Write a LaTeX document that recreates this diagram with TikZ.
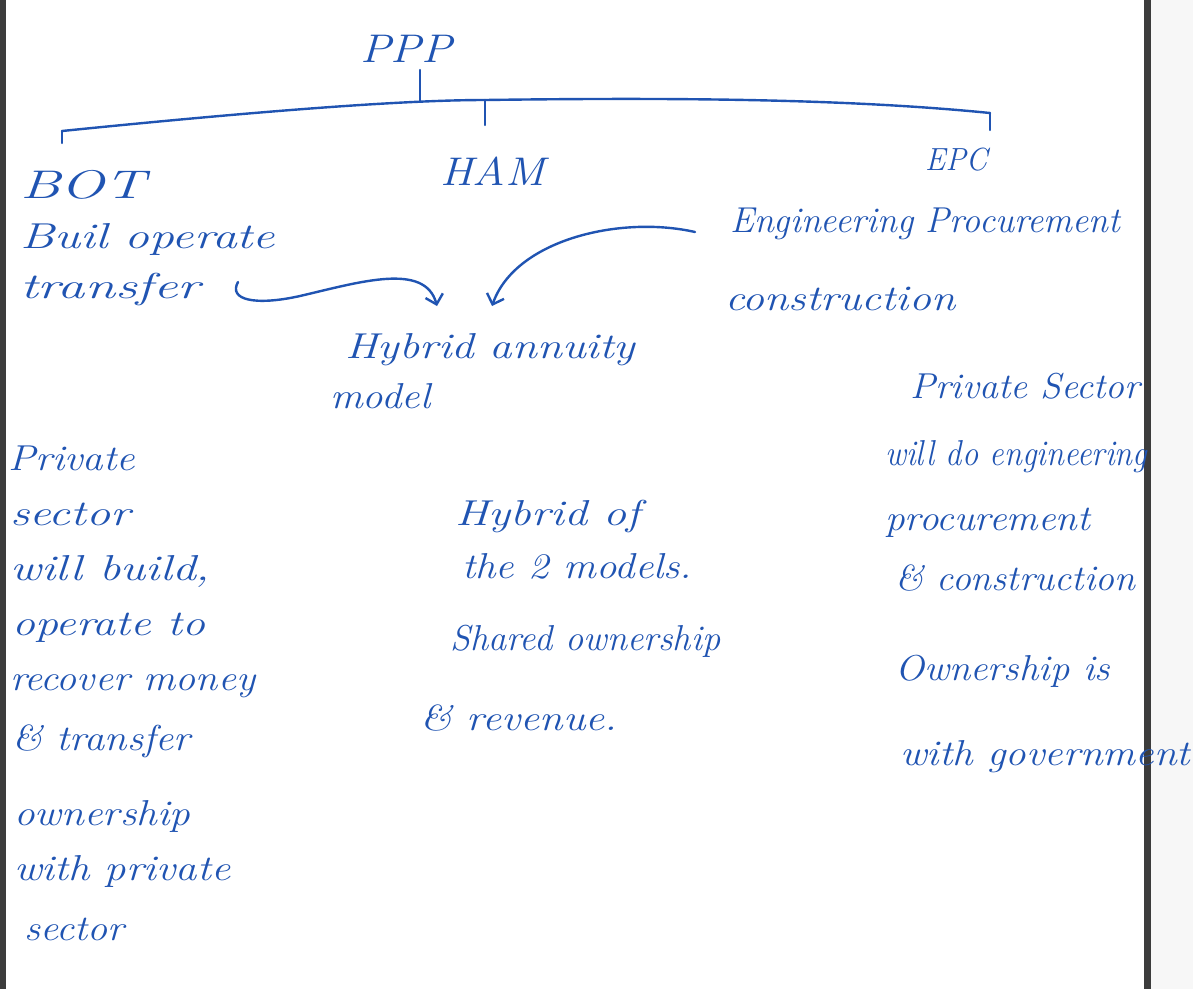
\documentclass[tikz,border=0pt]{standalone}
\usepackage{fontspec}
\usepackage{graphicx}
\usetikzlibrary{arrows.meta}
\definecolor{ink}{RGB}{32,84,178}
\definecolor{frame}{RGB}{60,60,60}
\newcommand{\hwfit}[2]{\resizebox{#1pt}{\height}{#2}}
\tikzset{
  hw/.style={text=ink, anchor=base west, inner sep=0pt, font=\fontsize{36}{40}\selectfont\itshape},
  hwbig/.style={hw, font=\fontsize{40}{44}\selectfont\itshape},
  hwsmall/.style={hw, font=\fontsize{32}{36}\selectfont\itshape},
  ink line/.style={draw=ink, line width=2.4pt, line cap=round, line join=round},
  ink arrow/.style={ink line, -{Straight Barb[length=9pt,width=18pt,line width=2.4pt]}}
}
\begin{document}
\begin{tikzpicture}[x=1pt,y=-1pt]
\useasboundingbox (0,0) rectangle (1193,989);
\fill[white] (0,0) rectangle (1193,989);
\fill[gray!6] (1150,0) rectangle (1193,989);
\fill[frame] (0,0) rectangle (6,989);
\fill[frame] (1144,0) rectangle (1151,989);

% tree
\node[hwbig] (ppp) at (360,62) {\hwfit{92}{PPP}};
\node[hwbig] (bot) at (20,198) {\hwfit{125}{BOT}};
\node[hwbig] (ham) at (440,185) {\hwfit{105}{HAM}};
\node[hwsmall] (epc) at (925,170) {\hwfit{62}{EPC}};

\coordinate (bl) at (62,131);
\coordinate (bm) at (485,100);
\coordinate (br) at (990,113);
\coordinate (pj) at (420,101);
\coordinate (pt) at (420,70);
\draw[ink line] (bl) .. controls (250,112) and (400,100) .. (bm) .. controls (700,97) and (860,100) .. (br);
\draw[ink line] (pt) -- (pj);
\draw[ink line] (bl) -- ++(0,12);
\draw[ink line] (bm) -- ++(0,25);
\draw[ink line] (br) -- ++(0,17);

% left (BOT)
\node[hw] (bot1) at (20,248) {\hwfit{255}{Buil operate}};
\node[hw] (bot2) at (20,298) {\hwfit{180}{transfer}};

% right (EPC)
\node[hw] (epc1) at (730,232) {\hwfit{390}{Engineering Procurement}};
\node[hw] (epc2) at (725,310) {\hwfit{230}{construction}};

% middle (HAM)
\node[hw] (ham1) at (345,358) {\hwfit{290}{Hybrid annuity}};
\node[hw] (ham2) at (330,408) {\hwfit{100}{model}};

% arrows into HAM
\coordinate (a1s) at (238,282);
\coordinate (a1e) at (437,306);
\coordinate (a2s) at (695,232);
\coordinate (a2e) at (492,306);
\draw[ink arrow] (a1s) .. controls (228,300) and (255,306) .. (300,296) .. controls (360,282) and (425,262) .. (a1e);
\draw[ink arrow] (a2s) .. controls (620,215) and (515,240) .. (a2e);

% left column
\node[hw] (l1) at (8,470) {\hwfit{127}{Private}};
\node[hw] (l2) at (10,525) {\hwfit{120}{sector}};
\node[hw] (l3) at (10,580) {\hwfit{200}{will build,}};
\node[hw] (l4) at (12,635) {\hwfit{193}{operate to}};
\node[hw] (l5) at (10,690) {\hwfit{245}{recover money}};
\node[hw] (l6) at (12,750) {\hwfit{178}{\& transfer}};
\node[hw] (l7) at (14,825) {\hwfit{176}{ownership}};
\node[hw] (l8) at (14,880) {\hwfit{216}{with private}};
\node[hw] (l9) at (24,940) {\hwfit{100}{sector}};

% middle column
\node[hw] (m1) at (455,525) {\hwfit{185}{Hybrid of}};
\node[hw] (m2) at (462,578) {\hwfit{230}{the 2 models.}};
\node[hw] (m3) at (450,650) {\hwfit{270}{Shared ownership}};
\node[hw] (m4) at (420,730) {\hwfit{197}{\& revenue.}};

% right column
\node[hw] (r1) at (910,398) {\hwfit{230}{Private Sector}};
\node[hw] (r2) at (885,465) {\hwfit{262}{will do engineering}};
\node[hw] (r3) at (885,530) {\hwfit{205}{procurement}};
\node[hw] (r4) at (895,590) {\hwfit{240}{\& construction}};
\node[hw] (r5) at (895,680) {\hwfit{215}{Ownership is}};
\node[hw] (r6) at (900,765) {\hwfit{290}{with government}};
\end{tikzpicture}
\end{document}
